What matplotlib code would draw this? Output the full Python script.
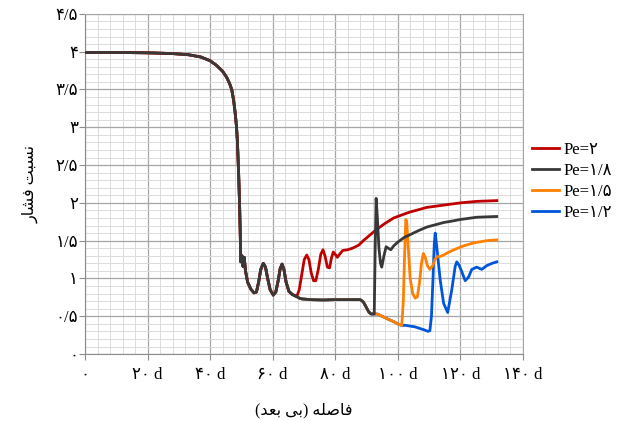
import matplotlib
matplotlib.use('Agg')
import matplotlib.pyplot as plt
from matplotlib.ticker import MultipleLocator

plt.rcParams['font.family'] = ['Liberation Serif', 'DejaVu Sans']

# shared part of all four curves (x in d, pressure ratio)
common_x = [0, 10, 20, 28, 33, 37, 40, 42, 44, 45.3, 46.2, 46.9, 47.5, 48.0, 48.4,
            48.7, 49.1, 49.4, 49.6, 49.8, 50.2, 50.5, 50.9, 51.3, 52.0, 53.0, 54.0,
            54.8, 55.5, 56.2, 57.0, 57.7, 58.4, 59.2, 60.2, 61.0, 61.8, 62.4, 63.0,
            63.6, 64.3, 65.2, 66.2, 67.7]
common_y = [3.99, 3.99, 3.985, 3.975, 3.96, 3.93, 3.88, 3.82, 3.74, 3.66, 3.58, 3.50,
            3.36, 3.19, 3.02, 2.83, 2.40, 2.0, 1.65, 1.22, 1.30, 1.16, 1.28, 1.10,
            0.95, 0.86, 0.81, 0.82, 0.95, 1.12, 1.20, 1.15, 1.00, 0.85, 0.78, 0.82,
            0.98, 1.13, 1.19, 1.12, 0.95, 0.83, 0.79, 0.76]

# black, orange and blue stay together until the black spike
flat_x = [68.5, 69.3, 72, 76, 80, 84, 88, 89.0, 89.8, 90.7, 91.5, 92.5]
flat_y = [0.74, 0.73, 0.72, 0.715, 0.72, 0.72, 0.72, 0.69, 0.63, 0.56, 0.53, 0.53]

# orange and blue together until the orange spike
low_x = [93.5, 95.5, 97.0, 98.7, 100.0, 101.3]
low_y = [0.53, 0.49, 0.46, 0.43, 0.40, 0.38]

red_x = [68.5, 69.3, 70.1, 70.9, 71.6, 72.3, 73.1, 73.8, 74.6, 75.4, 76.1, 76.8, 77.5,
         78.2, 78.8, 79.4, 80.0, 80.7, 81.4, 82.4, 84.0, 85.5, 87.5, 89.0, 90.7, 93.3,
         96.0, 98.7, 101.3, 104.0, 106.7, 109.3, 114.7, 120.0, 125.3, 131.7]
red_y = [0.85, 1.05, 1.25, 1.31, 1.25, 1.08, 0.97, 0.97, 1.12, 1.32, 1.38, 1.29, 1.15,
         1.14, 1.27, 1.35, 1.32, 1.28, 1.32, 1.37, 1.38, 1.40, 1.44, 1.50, 1.56, 1.65,
         1.73, 1.80, 1.84, 1.88, 1.91, 1.94, 1.97, 2.00, 2.02, 2.03]

black_x = [92.8, 93.1, 93.5, 94.0, 94.5, 94.9, 95.6, 96.3, 97.0, 97.8, 98.7, 100.0,
           102.0, 104.0, 106.5, 109.3, 112.0, 114.7, 117.5, 120.0, 125.3, 131.7]
black_y = [1.40, 2.06, 1.80, 1.40, 1.20, 1.15, 1.30, 1.42, 1.40, 1.38, 1.43, 1.48,
           1.54, 1.58, 1.63, 1.68, 1.71, 1.74, 1.76, 1.78, 1.81, 1.82]

orange_x = [101.8, 102.2, 102.6, 102.9, 103.4, 104.0, 104.8, 105.6, 106.3, 107.0,
            107.6, 108.2, 108.8, 109.5, 110.3, 111.2, 112.0, 112.7, 113.5, 114.7,
            116.0, 118.0, 121.0, 124.3, 128.5, 131.7]
orange_y = [0.70, 1.30, 1.78, 1.75, 1.40, 1.00, 0.80, 0.74, 0.76, 0.95, 1.20, 1.33,
            1.28, 1.17, 1.12, 1.17, 1.26, 1.29, 1.29, 1.31, 1.34, 1.38, 1.43, 1.47,
            1.50, 1.51]

blue_x = [102.5, 104.0, 105.5, 107.0, 108.5, 109.7, 110.3, 110.8, 111.3, 111.7, 112.0,
          112.5, 113.6, 114.7, 116.0, 117.3, 118.4, 118.9, 119.6, 120.5, 121.6, 122.7,
          123.7, 125.3, 126.9, 128.5, 130.2, 131.7]
blue_y = [0.38, 0.37, 0.36, 0.34, 0.32, 0.30, 0.31, 0.50, 1.00, 1.45, 1.60, 1.42,
          0.98, 0.67, 0.55, 0.85, 1.16, 1.22, 1.18, 1.09, 0.97, 1.02, 1.12, 1.15,
          1.12, 1.17, 1.20, 1.22]

series_names = ['Pe=۲', 'Pe=۱/۸', 'Pe=۱/۵', 'Pe=۱/۲']
series_colors = ['#c00000', '#383838', '#ff8000', '#0055dd']

x_ticks = [0, 20, 40, 60, 80, 100, 120, 140]
x_tick_labels = ['۰', '۲۰ d', '۴۰ d', '۶۰ d', '۸۰ d', '۱۰۰ d', '۱۲۰ d', '۱۴۰ d']
y_ticks = [0, 0.5, 1, 1.5, 2, 2.5, 3, 3.5, 4, 4.5]
y_tick_labels = ['۰', '۰/۵', '۱', '۱/۵', '۲', '۲/۵', '۳', '۳/۵', '۴', '۴/۵']

x_title = 'فاصله (بی بعد)'
y_title = 'نسبت فشار'

# matplotlib has no arabic shaping, so pick presentation forms by hand
FORMS = {
    'ا': ('\uFE8D', '\uFE8E', None, None),
    'ب': ('\uFE8F', '\uFE90', '\uFE91', '\uFE92'),
    'ت': ('\uFE95', '\uFE96', '\uFE97', '\uFE98'),
    'د': ('\uFEA9', '\uFEAA', None, None),
    'ر': ('\uFEAD', '\uFEAE', None, None),
    'س': ('\uFEB1', '\uFEB2', '\uFEB3', '\uFEB4'),
    'ش': ('\uFEB5', '\uFEB6', '\uFEB7', '\uFEB8'),
    'ص': ('\uFEB9', '\uFEBA', '\uFEBB', '\uFEBC'),
    'ع': ('\uFEC9', '\uFECA', '\uFECB', '\uFECC'),
    'ف': ('\uFED1', '\uFED2', '\uFED3', '\uFED4'),
    'ل': ('\uFEDD', '\uFEDE', '\uFEDF', '\uFEE0'),
    'ن': ('\uFEE5', '\uFEE6', '\uFEE7', '\uFEE8'),
    'ه': ('\uFEE9', '\uFEEA', '\uFEEB', '\uFEEC'),
    'ی': ('\uFEEF', '\uFEF0', '\uFBFE', '\uFBFF'),
}


def shape(text):
    out = []
    for i, ch in enumerate(text):
        if ch not in FORMS:
            out.append(ch)
            continue
        iso, fin, ini, med = FORMS[ch]
        prev = text[i - 1] if i > 0 else ''
        nxt = text[i + 1] if i + 1 < len(text) else ''
        join_prev = prev in FORMS and FORMS[prev][2] is not None
        join_next = nxt in FORMS and ini is not None
        if join_prev and join_next:
            out.append(med)
        elif join_prev:
            out.append(fin)
        elif join_next:
            out.append(ini)
        else:
            out.append(iso)
    return ''.join(reversed(out)).translate(str.maketrans('()', ')('))


curves = [
    (common_x + red_x, common_y + red_y),
    (common_x + flat_x + black_x, common_y + flat_y + black_y),
    (common_x + flat_x + low_x + orange_x, common_y + flat_y + low_y + orange_y),
    (common_x + flat_x + low_x + blue_x, common_y + flat_y + low_y + blue_y),
]

fig = plt.figure(figsize=(6.26, 4.21), dpi=100)
ax = fig.add_axes([0.136, 0.159, 0.699, 0.808])

zorders = [4, 5, 3, 2]
handles = []
for (xs, ys), name, color, z in zip(curves, series_names, series_colors, zorders):
    line, = ax.plot(xs, ys, color=color, lw=2.0, label=name, zorder=z,
                    solid_joinstyle='round')
    handles.append(line)

ax.set_xlim(0, 140)
ax.set_ylim(0, 4.5)
ax.set_xticks(x_ticks)
ax.set_xticklabels(x_tick_labels, fontsize=12)
ax.set_yticks(y_ticks)
ax.set_yticklabels(y_tick_labels, fontsize=12)
ax.xaxis.set_minor_locator(MultipleLocator(4))
ax.yaxis.set_minor_locator(MultipleLocator(0.1))

ax.grid(which='major', color='#a6a6a6', lw=0.9)
ax.grid(which='minor', color='#dcdcdc', lw=0.7)
ax.set_axisbelow(True)
ax.tick_params(which='major', length=4, color='#8c8c8c')
ax.tick_params(axis='x', pad=5)
ax.tick_params(axis='y', pad=1)
ax.tick_params(which='minor', length=0)
for side in ['left', 'bottom']:
    ax.spines[side].set_color('#8c8c8c')
for side in ['top', 'right']:
    ax.spines[side].set_color('#a6a6a6')

ax.set_xlabel(shape(x_title), fontsize=11.5, labelpad=14)
ax.set_ylabel(shape(y_title), fontsize=11.5, labelpad=12)

fig.legend(handles=handles, loc='center left', bbox_to_anchor=(0.826, 0.57),
           frameon=False, fontsize=12, handlelength=1.6, handletextpad=0.3,
           labelspacing=0.3)

fig.savefig('out.png', dpi=100)
